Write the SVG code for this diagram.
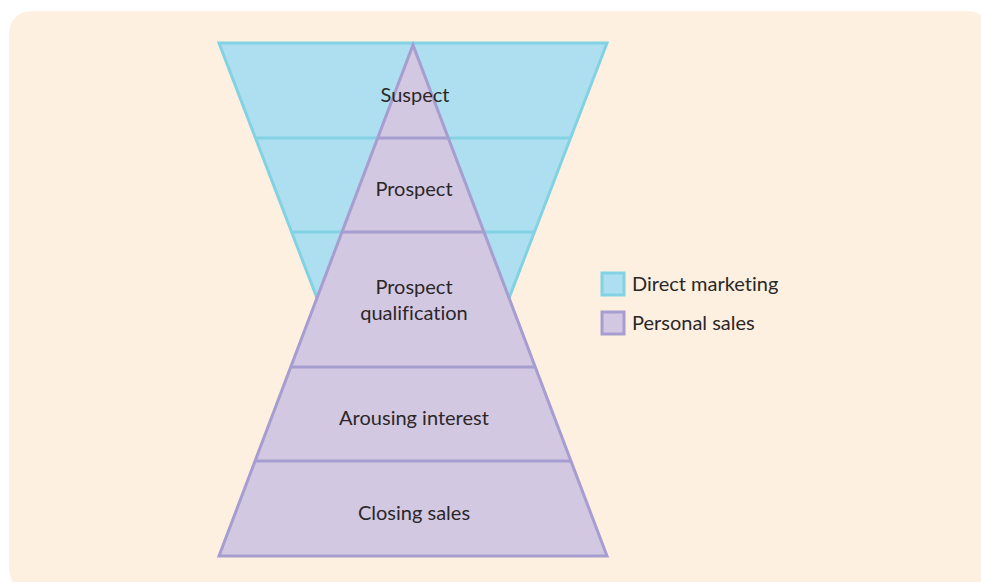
<svg xmlns="http://www.w3.org/2000/svg" width="981" height="582" viewBox="0 0 981 582">
<style>
.dm{fill:#addff0;stroke:#82d2e3;stroke-width:3;stroke-linejoin:miter}
.ps{fill:#d3c8e2;stroke:#a69dd0;stroke-width:3;stroke-linejoin:miter}
.dml{stroke:#82d2e3;stroke-width:3;fill:none}
.psl{stroke:#a69dd0;stroke-width:3;fill:none}
text{font-family:Lato,"Open Sans","Liberation Sans",sans-serif;font-size:20px;fill:#2b2728;font-variant-ligatures:none}
.c{text-anchor:middle}
</style>
<path d="M9 36 Q9 11 34 11 L966 11 Q990 11 990 36 L990 590 L31 590 Q9 590 9 566 Z" fill="#fdf0e1"/>
<g id="funnel">
<polygon class="dm" points="219,43 607,43 413,548"/>
<line class="dml" x1="256" y1="138" x2="570" y2="138"/>
<line class="dml" x1="293" y1="232" x2="534" y2="232"/>
</g>
<g id="pyramid">
<polygon class="ps" points="413,45 607,556 219,556"/>
<line class="psl" x1="378" y1="138" x2="448" y2="138"/>
<line class="psl" x1="342" y1="232" x2="484" y2="232"/>
<line class="psl" x1="291" y1="367" x2="535" y2="367"/>
<line class="psl" x1="256" y1="461" x2="570" y2="461"/>
</g>
<g id="labels">
<text class="c" x="415" y="102">Suspect</text>
<text class="c" x="414" y="196">Prospect</text>
<text class="c" x="414" y="294">Prospect</text>
<text class="c" x="414" y="320">qualification</text>
<text class="c" x="414" y="425">Arousing interest</text>
<text class="c" x="414" y="520">Closing sales</text>
</g>
<g id="legend">
<rect class="dm" x="602" y="273" width="22" height="22"/>
<text x="632" y="291">Direct marketing</text>
<rect class="ps" x="602" y="312" width="22" height="22"/>
<text x="632" y="330">Personal sales</text>
</g>
</svg>
